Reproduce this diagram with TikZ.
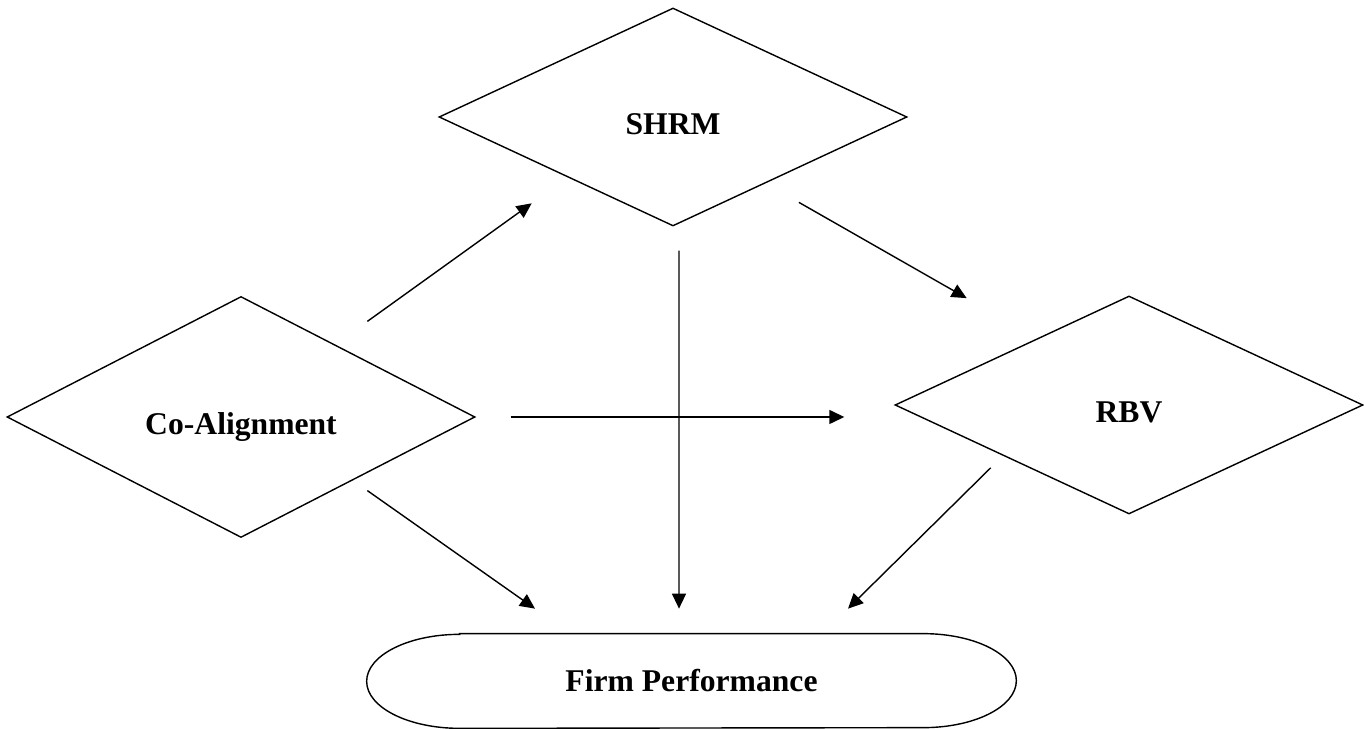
\documentclass[tikz,border=0pt]{standalone}
\usepackage{fontspec}
\setmainfont{Liberation Serif}
\usetikzlibrary{shapes.geometric, arrows.meta}
\tikzset{
  fact/.style={diamond, draw, line width=0.8pt, inner sep=0pt,
    minimum width=9.36cm, minimum height=4.36cm,
    text height=0.72cm, text depth=0cm},
  arr/.style={line width=0.8pt, -{Triangle[length=0.3cm, width=0.28cm]}}
}
\begin{document}
\begin{tikzpicture}[line join=miter, font=\fontsize{18}{22}\selectfont\bfseries]
\useasboundingbox (0,0) rectangle (27.28,14.58);
%\draw[help lines] (0,0) grid (27,14);
\node [fact, minimum height=4.82cm] (co) at (4.82,6.24) {Co-Alignment};
\node [fact] (shrm) at (13.46,12.24) {SHRM};
\node [fact] (rbv) at (22.58,6.48) {RBV};
\node [minimum width=12.98cm, minimum height=1.88cm, inner sep=0pt]
  (fp) at (13.83,0.96) {Firm Performance};
\draw [line width=0.8pt] ([xshift=1.86cm]fp.north west) -- ([xshift=-1.86cm]fp.north east)
  arc [start angle=90, end angle=-90, x radius=1.86cm, y radius=0.94cm]
  -- ([xshift=1.86cm]fp.south west)
  arc [start angle=270, end angle=90, x radius=1.86cm, y radius=0.94cm] -- cycle;

\draw [arr] ([xshift=0.18cm, yshift=0.7cm]co.north east)
  -- ([xshift=-0.48cm, yshift=-0.63cm]shrm.south west);
\draw [arr] ([xshift=0.17cm, yshift=-0.61cm]shrm.south east)
  -- ([xshift=-0.9cm, yshift=1.04cm]rbv.north west);
\draw [arr, shorten <=0.7cm, shorten >=1cm] (co.east) -- (co.east -| rbv.west);
\draw [arr] ([xshift=0.12cm, yshift=-0.48cm]shrm.south)
  -- ([xshift=-0.25cm, yshift=0.5cm]fp.north);
\draw [arr] ([xshift=0.18cm, yshift=-0.26cm]co.south east)
  -- ([xshift=-3.13cm, yshift=0.5cm]fp.north);
\draw [arr] ([xshift=-0.42cm, yshift=-0.16cm]rbv.south west)
  -- ([xshift=3.13cm, yshift=0.5cm]fp.north);
\end{tikzpicture}
\end{document}
